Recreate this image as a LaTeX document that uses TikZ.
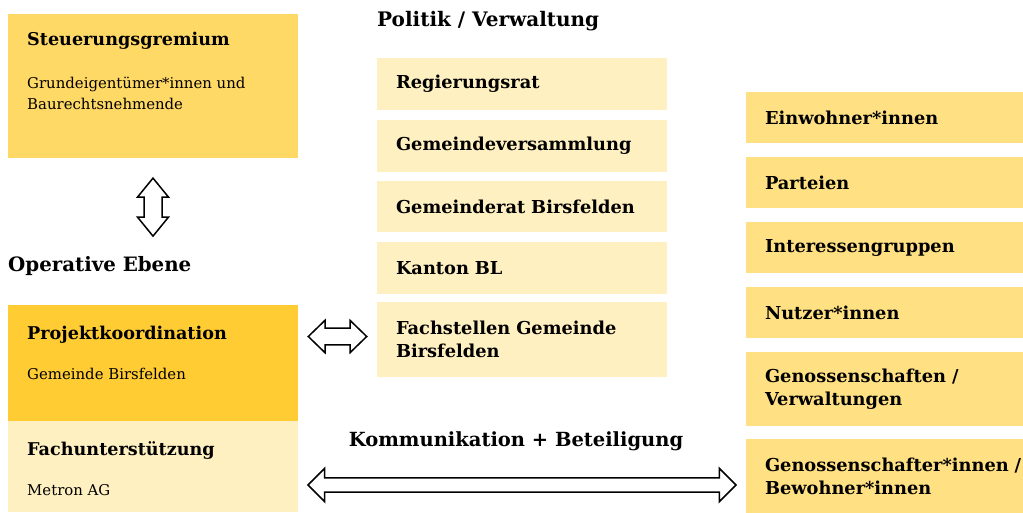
\documentclass[tikz,border=0pt]{standalone}
\usepackage{fontspec}
\setmainfont{DejaVu Serif}
\usetikzlibrary{positioning,calc}

\definecolor{steuergold}{HTML}{FFD966}
\definecolor{projgold}{HTML}{FFCC33}
\definecolor{hellgold}{HTML}{FFF0C2}
\definecolor{akteurgold}{HTML}{FFE083}

\begin{document}
\begin{tikzpicture}[x=1pt, y=-1pt,
  panel/.style={anchor=north west, inner sep=0pt, outer sep=0pt, minimum width=290pt},
  head/.style={anchor=west, inner sep=0pt, font=\fontsize{17.6}{21}\selectfont\bfseries},
  sub/.style={anchor=west, inner sep=0pt, align=left, font=\fontsize{14.9}{21}\selectfont},
  bigtitle/.style={anchor=west, inner sep=0pt, font=\fontsize{19.8}{24}\selectfont\bfseries},
  entry/.style={anchor=north west, inner xsep=19pt, inner ysep=0pt, outer sep=0pt,
    text width=#1, align=left, font=\fontsize{17.8}{23}\selectfont\bfseries},
  pfeil/.style={draw=black, fill=white, line width=1.5pt, line join=miter},
  pics/dpfeil/.style n args={4}{code={
    \draw[pfeil] (-#1/2,0) -- ++(#2,#3) -- ++(0,#4-#3) -- (#1/2-#2,#4) -- ++(0,#3-#4)
      -- (#1/2,0) -- ++(-#2,-#3) -- ++(0,#3-#4) -- (-#1/2+#2,-#4) -- ++(0,#4-#3) -- cycle;
  }},
]
\useasboundingbox (0,0) rectangle (1023,512);

%--- Steuerungsebene ---
\node[panel, fill=steuergold, minimum height=144pt] (steu) at (8,14) {};
\node[head] (steuT) at ($(steu.north west)+(19,27)$) {Steuerungsgremium};
\node[sub] (steuS) at ($(steu.north west)+(19,79)$) {Grundeigentümer*innen und\\Baurechtsnehmende};

%--- Operative Ebene ---
\node[bigtitle] (opera) at (8,266) {Operative Ebene};
\node[panel, fill=projgold, minimum height=116pt] (proj) at (8,305) {};
\node[head] (projT) at ($(proj.north west)+(19,30)$) {Projektkoordination};
\node[sub] (projS) at ($(proj.north west)+(19,69)$) {Gemeinde Birsfelden};
\node[panel, fill=hellgold, minimum height=91pt] (fach) at (proj.south west) {};
\node[head] (fachT) at ($(fach.north west)+(19,30)$) {Fachunterstützung};
\node[sub] (fachS) at ($(fach.north west)+(19,69)$) {Metron AG};

%--- Politik / Verwaltung ---
\node[bigtitle, font=\fontsize{20}{24}\selectfont\bfseries] (pol) at (377,21) {Politik / Verwaltung};
\node[entry=252pt, fill=hellgold, minimum height=52pt] (rr)  at (377,58)  {Regierungsrat};
\node[entry=252pt, fill=hellgold, minimum height=52pt] (gv)  at (377,120) {Gemeindeversammlung};
\node[entry=252pt, fill=hellgold, minimum height=51pt] (gr)  at (377,181) {Gemeinderat Birsfelden};
\node[entry=252pt, fill=hellgold, minimum height=52pt] (kbl) at (377,242) {Kanton BL};
\node[entry=252pt, fill=hellgold, minimum height=75pt] (fst) at (377,302) {Fachstellen Gemeinde\\Birsfelden};

%--- Akteure rechts ---
\node[entry=282pt, fill=akteurgold, minimum height=51pt] (ew)  at (746,92)  {Einwohner*innen};
\node[entry=282pt, fill=akteurgold, minimum height=51pt] (par) at (746,157) {Parteien};
\node[entry=282pt, fill=akteurgold, minimum height=51pt] (ig)  at (746,222) {Interessengruppen};
\node[entry=282pt, fill=akteurgold, minimum height=51pt] (nu)  at (746,287) {Nutzer*innen};
\node[entry=282pt, fill=akteurgold, minimum height=74pt] (gen) at (746,352) {Genossenschaften /\\Verwaltungen};
\node[entry=282pt, fill=akteurgold, minimum height=75pt] (gbw) at (746,439) {Genossenschafter*innen /\\Bewohner*innen};

%--- Pfeile ---
\pic[rotate=90] (vpfeil) at ($(steu.south)!0.5!(steu.south |- opera.north)$) {dpfeil={58}{19}{15.5}{9}};
\pic (hpfeil) at ($(proj.east |- fst.west)!0.5!(fst.west)+(0,-3)$) {dpfeil={58.4}{16.7}{16.2}{8.3}};
\pic (kpfeil) at ($(proj.east |- gbw.west)!0.5!(gbw.west)+(0,8.5)$) {dpfeil={428}{16.7}{16.7}{7.2}};
\node[bigtitle, anchor=center, font=\fontsize{19.5}{24}\selectfont\bfseries] (kom) at (516,441) {Kommunikation + Beteiligung};
\end{tikzpicture}
\end{document}
